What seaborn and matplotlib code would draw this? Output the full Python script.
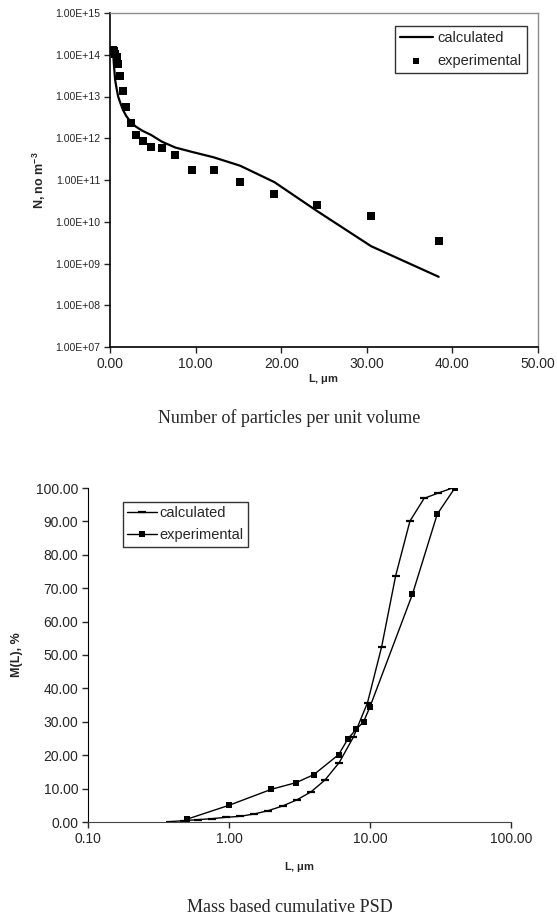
import numpy as np
import pandas as pd
import matplotlib
matplotlib.use("Agg")
import matplotlib.pyplot as plt
from matplotlib.ticker import FixedLocator, FuncFormatter, NullLocator
import seaborn as sns

# --- top chart: number of particles per unit volume ---
L_size = [0.38, 0.48, 0.60, 0.76, 0.95, 1.20, 1.51, 1.90, 2.40, 3.02, 3.81,
          4.80, 6.05, 7.62, 9.60, 12.1, 15.2, 19.2, 24.2, 30.5, 38.4]
N_exp = [1.3e14, 1.2e14, 1.05e14, 8.9e13, 5.9e13, 3.1e13, 1.37e13, 5.7e12,
         2.3e12, 1.19e12, 8.6e11, 6.2e11, 5.9e11, 4.0e11, 1.74e11, 1.74e11,
         8.9e10, 4.7e10, 2.5e10, 1.35e10, 3.4e9]
N_calc = [1.0e14, 5.0e13, 2.5e13, 1.6e13, 1.0e13, 7.1e12, 4.8e12, 3.4e12,
          2.5e12, 1.9e12, 1.5e12, 1.2e12, 8.3e11, 6.0e11, 4.7e11, 3.5e11,
          2.2e11, 8.9e10, 1.8e10, 2.6e9, 4.8e8]

# --- bottom chart: mass based cumulative PSD ---
M_calc = [0.1, 0.4, 0.7, 1.0, 1.4, 1.7, 2.4, 3.4, 4.8, 6.6, 9.0, 12.6, 17.8,
          25.4, 35.7, 52.5, 73.7, 90.1, 96.9, 98.5, 100.0]
L_exp = [0.5, 1, 2, 3, 4, 6, 7, 8, 9, 10, 20, 30, 40]
M_exp = [0.8, 5.0, 9.8, 11.8, 14.2, 20.2, 25.0, 27.8, 30.0, 34.5, 68.2, 92.2, 100.0]

sns.set_style("ticks")
plt.rcParams["font.family"] = ["Liberation Sans", "DejaVu Sans"]
plt.rcParams["mathtext.fontset"] = "custom"
plt.rcParams["mathtext.bf"] = "Liberation Sans:bold"

fig = plt.figure(figsize=(5.57, 9.18), dpi=100)

# top axes
ax1 = fig.add_axes([110/557, 1-347/918, 428/557, 334/918])
sns.lineplot(x=L_size, y=N_calc, ax=ax1, color="black", linewidth=1.6,
             sort=False, estimator=None, label="calculated")
sns.scatterplot(x=L_size, y=N_exp, ax=ax1, color="black", marker="s", s=26,
                edgecolor="black", linewidth=0, label="experimental")
ax1.set_yscale("log")
ax1.set_ylim(1e7, 1e15)
ax1.set_xlim(0, 50)
ax1.yaxis.set_major_locator(FixedLocator([10.0**k for k in range(7, 16)]))
ax1.yaxis.set_minor_locator(NullLocator())
ax1.yaxis.set_major_formatter(FuncFormatter(lambda v, p: f"{v:.2E}"))
ax1.set_xticks([0, 10, 20, 30, 40, 50])
ax1.xaxis.set_major_formatter(FuncFormatter(lambda v, p: f"{v:.2f}"))
ax1.tick_params(axis="y", labelsize=7.6, length=4, width=1, direction="out", pad=3)
ax1.tick_params(axis="x", labelsize=10, length=4, width=1, direction="out", pad=3)
for s in ["top", "right"]:
    ax1.spines[s].set_visible(True)
    ax1.spines[s].set_color("#8c8c8c")
    ax1.spines[s].set_linewidth(1)
for s in ["left", "bottom"]:
    ax1.spines[s].set_color("black")
    ax1.spines[s].set_linewidth(1.2)
ax1.set_xlabel(r"L, $\mathbf{\mu}$m", fontsize=8, fontweight="bold", labelpad=1)
ax1.set_ylabel(r"N, no m$^{\mathbf{-3}}$", fontsize=9, fontweight="bold", labelpad=5)
leg1 = ax1.legend(loc="upper right", bbox_to_anchor=(0.974, 0.961), borderaxespad=0,
                  fontsize=10.5, frameon=True, fancybox=False, edgecolor="black",
                  handlelength=2.3, handletextpad=0.3, labelspacing=0.6,
                  borderpad=0.35, markerscale=0.8)
leg1.get_frame().set_linewidth(1)

# bottom axes
ax2 = fig.add_axes([88/557, 1-822/918, 423/557, 334/918])
sns.lineplot(x=L_size, y=M_calc, ax=ax2, color="black", linewidth=1.0,
             marker="_", markersize=6, markeredgewidth=1.6, markeredgecolor="black",
             sort=False, estimator=None, label="calculated")
sns.lineplot(x=L_exp, y=M_exp, ax=ax2, color="black", linewidth=1.0,
             marker="s", markersize=5, markeredgewidth=0, sort=False,
             estimator=None, label="experimental")
ax2.set_xscale("log")
ax2.set_xlim(0.1, 100)
ax2.set_ylim(0, 100)
ax2.xaxis.set_major_locator(FixedLocator([0.1, 1, 10, 100]))
ax2.xaxis.set_minor_locator(NullLocator())
ax2.xaxis.set_major_formatter(FuncFormatter(lambda v, p: f"{v:.2f}"))
ax2.set_yticks(np.arange(0, 101, 10))
ax2.yaxis.set_major_formatter(FuncFormatter(lambda v, p: f"{v:.2f}"))
ax2.tick_params(axis="both", labelsize=10, length=4, width=1, direction="out", pad=3)
sns.despine(ax=ax2)
ax2.spines["left"].set_color("black")
ax2.spines["bottom"].set_color("#444444")
ax2.set_xlabel(r"L, $\mathbf{\mu}$m", fontsize=8, fontweight="bold", labelpad=10)
ax2.set_ylabel("M(L), %", fontsize=9, fontweight="bold", labelpad=9)
leg2 = ax2.legend(loc="upper left", bbox_to_anchor=(0.083, 0.958), borderaxespad=0,
                  fontsize=10.5, frameon=True, fancybox=False, edgecolor="black",
                  handlelength=2.0, handletextpad=0.2, labelspacing=0.55,
                  borderpad=0.3)
leg2.get_frame().set_linewidth(1)

fig.text(0.52, 1-418/918, "Number of particles per unit volume",
         family="Liberation Serif", fontsize=13, ha="center", va="center")
fig.text(0.52, 1-907/918, "Mass based cumulative PSD",
         family="Liberation Serif", fontsize=13, ha="center", va="center")

fig.savefig("out.png", dpi=100)
